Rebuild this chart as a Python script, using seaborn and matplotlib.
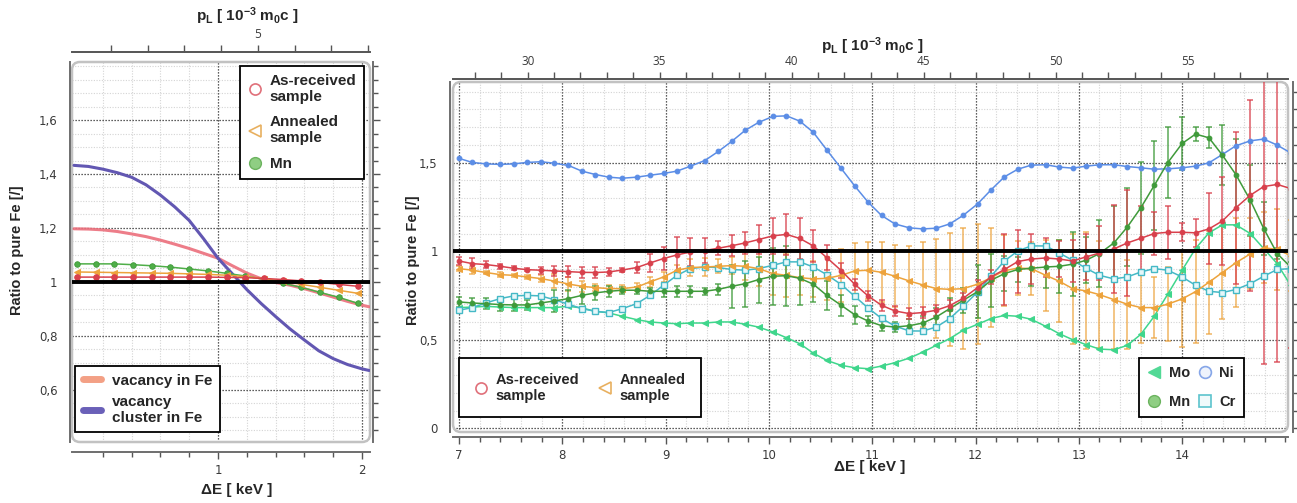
import matplotlib
matplotlib.use("Agg")
import matplotlib.pyplot as plt
import seaborn as sns
from matplotlib.ticker import FixedLocator, FuncFormatter
from matplotlib.lines import Line2D
from matplotlib.patches import FancyBboxPatch

# ---------------- data: left panel ----------------
e_left = [0.02, 0.15, 0.28, 0.41, 0.54, 0.67, 0.80, 0.93, 1.06, 1.19, 1.32, 1.45, 1.58, 1.71, 1.84, 1.97]
left_asrec = [1.018, 1.018, 1.018, 1.018, 1.018, 1.018, 1.018, 1.018, 1.017, 1.016, 1.013, 1.009, 1.004, 0.998, 0.991, 0.984]
left_anneal = [1.037, 1.036, 1.035, 1.034, 1.033, 1.032, 1.030, 1.028, 1.025, 1.020, 1.012, 1.003, 0.991, 0.980, 0.969, 0.958]
left_mn = [1.067, 1.067, 1.067, 1.064, 1.060, 1.055, 1.048, 1.041, 1.032, 1.022, 1.010, 0.995, 0.980, 0.961, 0.943, 0.921]

e_theory = [0.0, 0.1, 0.2, 0.3, 0.4, 0.5, 0.6, 0.7, 0.8, 0.9, 1.0, 1.1, 1.2, 1.3, 1.4, 1.5, 1.6, 1.7, 1.8, 1.9, 2.0, 2.05]
vac_fe = [1.197, 1.196, 1.193, 1.187, 1.178, 1.168, 1.155, 1.140, 1.124, 1.106, 1.088, 1.060, 1.033, 1.012, 0.998, 0.988,
          0.975, 0.960, 0.944, 0.928, 0.914, 0.908]
vac_cluster = [1.432, 1.428, 1.418, 1.405, 1.388, 1.360, 1.322, 1.278, 1.228, 1.160, 1.088, 1.030, 0.972, 0.920, 0.872,
               0.826, 0.785, 0.745, 0.716, 0.694, 0.678, 0.672]

# ---------------- data: right panel ----------------
e_right = [7.00, 7.13, 7.26, 7.40, 7.53, 7.66, 7.79, 7.92, 8.06, 8.19, 8.32, 8.45, 8.58, 8.72, 8.85, 8.98,
           9.11, 9.24, 9.38, 9.51, 9.64, 9.77, 9.90, 10.04, 10.17, 10.30, 10.43, 10.56, 10.70, 10.83, 10.96,
           11.09, 11.22, 11.36, 11.49, 11.62, 11.75, 11.88, 12.02, 12.15, 12.28, 12.41, 12.54, 12.68, 12.81,
           12.94, 13.07, 13.20, 13.34, 13.47, 13.60, 13.73, 13.86, 14.00, 14.13, 14.26, 14.39, 14.52, 14.66,
           14.79, 14.92, 15.05]

ni = [1.524, 1.501, 1.493, 1.490, 1.493, 1.501, 1.505, 1.497, 1.484, 1.452, 1.433, 1.418, 1.412, 1.418, 1.429, 1.439,
      1.452, 1.480, 1.512, 1.563, 1.620, 1.682, 1.727, 1.761, 1.764, 1.734, 1.671, 1.572, 1.467, 1.369, 1.277,
      1.202, 1.154, 1.132, 1.126, 1.130, 1.154, 1.202, 1.267, 1.346, 1.420, 1.463, 1.486, 1.488, 1.475, 1.469,
      1.480, 1.488, 1.488, 1.478, 1.471, 1.463, 1.465, 1.471, 1.480, 1.499, 1.546, 1.595, 1.623, 1.633, 1.599, 1.555]

asrec = [0.945, 0.930, 0.925, 0.915, 0.904, 0.896, 0.893, 0.889, 0.885, 0.881, 0.880, 0.883, 0.894, 0.908, 0.934, 0.959,
         0.979, 0.996, 1.004, 1.017, 1.031, 1.047, 1.066, 1.087, 1.095, 1.072, 1.030, 0.964, 0.891, 0.814, 0.748,
         0.695, 0.663, 0.648, 0.654, 0.667, 0.693, 0.734, 0.795, 0.855, 0.897, 0.942, 0.956, 0.962, 0.956, 0.945,
         0.968, 0.990, 1.013, 1.047, 1.073, 1.100, 1.107, 1.107, 1.104, 1.126, 1.171, 1.245, 1.316, 1.365, 1.377, 1.354]
asrec_err = [0.02, 0.03, 0.02, 0.015, 0.01, 0.01, 0.02, 0.03, 0.03, 0.03, 0.03, 0.02, 0.01, 0.03, 0.05, 0.065,
             0.1, 0.08, 0.07, 0.04, 0.06, 0.06, 0.08, 0.10, 0.115, 0.115, 0.09, 0.07, 0.04, 0.03, 0.03,
             0.03, 0.03, 0.03, 0.03, 0.03, 0.03, 0.03, 0.04, 0.04, 0.20, 0.18, 0.14, 0.11, 0.10, 0.12,
             0.13, 0.15, 0.25, 0.30, 0.18, 0.12, 0.15, 0.05, 0.08, 0.20, 0.25, 0.43, 0.54, 1.0, 1.0, 0.9]

anneal = [0.902, 0.893, 0.880, 0.868, 0.864, 0.855, 0.846, 0.832, 0.815, 0.802, 0.795, 0.789, 0.789, 0.798, 0.827, 0.855,
          0.893, 0.908, 0.911, 0.915, 0.919, 0.915, 0.902, 0.874, 0.864, 0.851, 0.844, 0.847, 0.864, 0.889, 0.893,
          0.881, 0.859, 0.832, 0.810, 0.789, 0.785, 0.789, 0.814, 0.851, 0.890, 0.905, 0.902, 0.864, 0.831, 0.789,
          0.776, 0.755, 0.727, 0.701, 0.682, 0.682, 0.701, 0.731, 0.772, 0.825, 0.880, 0.935, 0.985, 1.020, 1.010, 0.975]
anneal_err = [0.015, 0.02, 0.01, 0.015, 0.01, 0.01, 0.02, 0.04, 0.04, 0.03, 0.02, 0.02, 0.02, 0.02, 0.03, 0.03,
              0.03, 0.05, 0.05, 0.04, 0.05, 0.08, 0.10, 0.12, 0.12, 0.10, 0.10, 0.12, 0.15, 0.16, 0.16,
              0.17, 0.175, 0.20, 0.24, 0.28, 0.32, 0.34, 0.34, 0.28, 0.20, 0.15, 0.15, 0.20, 0.23, 0.31,
              0.33, 0.30, 0.28, 0.25, 0.20, 0.17, 0.21, 0.27, 0.29, 0.29, 0.26, 0.25, 0.20, 0.20, 0.23, 0.20]

mn = [0.714, 0.708, 0.704, 0.699, 0.697, 0.697, 0.708, 0.719, 0.733, 0.751, 0.765, 0.774, 0.780, 0.780, 0.774, 0.774,
      0.774, 0.774, 0.774, 0.785, 0.802, 0.817, 0.840, 0.859, 0.862, 0.847, 0.814, 0.751, 0.695, 0.642, 0.606,
      0.580, 0.572, 0.580, 0.595, 0.629, 0.676, 0.723, 0.772, 0.836, 0.874, 0.897, 0.904, 0.911, 0.915, 0.927,
      0.949, 0.987, 1.047, 1.137, 1.245, 1.371, 1.499, 1.608, 1.661, 1.640, 1.542, 1.433, 1.288, 1.128, 0.987, 0.911]
mn_err = [0.03, 0.03, 0.03, 0.035, 0.035, 0.03, 0.03, 0.06, 0.05, 0.05, 0.04, 0.03, 0.02, 0.02, 0.02, 0.03,
          0.03, 0.03, 0.02, 0.03, 0.12, 0.13, 0.13, 0.16, 0.17, 0.15, 0.10, 0.08, 0.06, 0.05, 0.03,
          0.03, 0.03, 0.04, 0.04, 0.05, 0.06, 0.07, 0.15, 0.15, 0.10, 0.07, 0.10, 0.12, 0.15, 0.18,
          0.13, 0.19, 0.21, 0.22, 0.26, 0.25, 0.20, 0.15, 0.04, 0.06, 0.17, 0.20, 0.20, 0.15, 0.03, 0.03]

cr = [0.667, 0.682, 0.708, 0.733, 0.748, 0.751, 0.748, 0.727, 0.701, 0.676, 0.661, 0.654, 0.676, 0.704, 0.751, 0.808,
      0.864, 0.902, 0.911, 0.908, 0.897, 0.893, 0.902, 0.921, 0.940, 0.940, 0.911, 0.868, 0.812, 0.746, 0.680,
      0.621, 0.578, 0.550, 0.550, 0.572, 0.620, 0.689, 0.770, 0.859, 0.945, 1.002, 1.030, 1.030, 0.990, 0.949,
      0.904, 0.864, 0.844, 0.855, 0.883, 0.902, 0.893, 0.855, 0.808, 0.774, 0.767, 0.784, 0.817, 0.859, 0.897, 0.902]

mo = [0.682, 0.685, 0.689, 0.685, 0.682, 0.682, 0.682, 0.682, 0.689, 0.680, 0.661, 0.652, 0.633, 0.614, 0.601, 0.595,
      0.591, 0.595, 0.595, 0.601, 0.601, 0.588, 0.572, 0.544, 0.512, 0.478, 0.425, 0.384, 0.356, 0.343, 0.337,
      0.352, 0.371, 0.397, 0.431, 0.469, 0.507, 0.554, 0.588, 0.620, 0.638, 0.633, 0.616, 0.576, 0.535, 0.501,
      0.473, 0.448, 0.444, 0.469, 0.531, 0.633, 0.757, 0.893, 1.015, 1.104, 1.149, 1.149, 1.100, 1.015, 0.930, 0.808]

# tick labels
left_yticks = [0.6, 0.8, 1.0, 1.2, 1.4, 1.6]
left_xticks = [1, 2]
left_pl_major = [5]
left_pl_minor = [1, 2, 3, 4, 6, 7, 8]
right_yticks = [0.0, 0.5, 1.0, 1.5]
right_xticks = [7, 8, 9, 10, 11, 12, 13, 14]
right_pl_major = [30, 35, 40, 45, 50, 55]
right_pl_minor = list(range(28, 59))

PL_PER_KEV = 2000.0 / 511.0   # p_L [1e-3 m0c] = 2*dE / (m0 c^2)

# ---------------- style ----------------
sns.set_style("white")
plt.rcParams['font.family'] = ['DejaVu Sans']
plt.rcParams['mathtext.fontset'] = 'custom'
plt.rcParams['mathtext.rm'] = 'Liberation Sans:bold'
plt.rcParams['mathtext.it'] = 'Liberation Sans:bold'
plt.rcParams['mathtext.bf'] = 'Liberation Sans:bold'

C_RED = '#d8404c'
C_ORANGE = '#eda33c'
C_MN = '#3f9a3a'
C_MN_FACE = '#4fae48'
C_NI = '#5b8de6'
C_CR = '#45b9c6'
C_MO = '#3fd68c'
C_VAC = '#ec6f7c'
C_CLU = '#6257b2'

W, H = 1297, 503
fig = plt.figure(figsize=(W / 100, H / 100), dpi=100)


def fpos(x0, y0, x1, y1):
    return [x0 / W, 1 - y1 / H, (x1 - x0) / W, (y1 - y0) / H]


axL = fig.add_axes(fpos(72, 62, 370, 442))
axR = fig.add_axes(fpos(453, 82, 1288, 432))


def comma(v, pos):
    s = f"{round(v, 3):g}"
    return s.replace('.', ',').replace('-', '\u2212')


TICKFONT = 'Open Sans'
LABFONT = dict(family='Liberation Sans', weight='bold', size=11)


def style_axes(ax, xlim, ylim, xmaj, xminor, ymaj, yminor, outs, pl_major, pl_minor, frame_px):
    ax.set_xlim(xlim)
    ax.set_ylim(ylim)
    ax.xaxis.set_major_locator(FixedLocator(xmaj))
    ax.xaxis.set_minor_locator(FixedLocator(xminor))
    ax.yaxis.set_major_locator(FixedLocator(ymaj))
    ax.yaxis.set_minor_locator(FixedLocator(yminor))
    ax.xaxis.set_major_formatter(FuncFormatter(comma))
    ax.yaxis.set_major_formatter(FuncFormatter(comma))
    ax.grid(which='minor', color='#d4d4d4', ls=(0, (1, 1.4)), lw=0.8)
    ax.grid(which='major', color='#2a2a2a', ls=(0, (1, 1.4)), lw=0.9)
    ax.set_axisbelow(True)
    ax.tick_params(which='both', direction='out', color='#555555', labelcolor='#3a3a3a',
                   labelsize=8.5, top=False, right=True, labelright=False, width=1.0)
    ax.tick_params(which='major', length=5, pad=4)
    ax.tick_params(which='minor', length=3.5)
    for lab in ax.get_xticklabels() + ax.get_yticklabels():
        lab.set_fontfamily(TICKFONT)
    for side in ['left', 'right', 'bottom']:
        ax.spines[side].set_position(('outward', outs[side]))
        ax.spines[side].set_color('#6e6e6e')
        ax.spines[side].set_linewidth(1.4)
    ax.spines['top'].set_visible(False)
    # rounded plot-area frame
    wpx, hpx = frame_px
    frame = FancyBboxPatch((0, 0), 1, 1, boxstyle=f"round,pad=0,rounding_size={8.0 / wpx}",
                           mutation_aspect=wpx / hpx, transform=ax.transAxes, fill=False,
                           ec='#c2c2c2', lw=1.8, clip_on=False, zorder=2.5)
    ax.add_patch(frame)
    # top axis in momentum units
    tw = ax.twiny()
    tw.set_xlim(xlim[0] * PL_PER_KEV, xlim[1] * PL_PER_KEV)
    tw.xaxis.set_major_locator(FixedLocator(pl_major))
    tw.xaxis.set_minor_locator(FixedLocator(pl_minor))
    for side in ['left', 'right', 'bottom']:
        tw.spines[side].set_visible(False)
    tw.spines['top'].set_position(('outward', outs['top']))
    tw.spines['top'].set_color('#555555')
    tw.spines['top'].set_linewidth(1.4)
    tw.tick_params(which='both', direction='out', color='#555555', labelcolor='#3a3a3a',
                   labelsize=8.5, width=1.0)
    tw.tick_params(which='major', length=5, pad=3)
    tw.tick_params(which='minor', length=5)
    for lab in tw.get_xticklabels():
        lab.set_fontfamily(TICKFONT)
    tw.grid(False)
    return tw


def frange(a, b, step):
    out = []
    v = a
    while v <= b + 1e-9:
        out.append(round(v, 3))
        v += step
    return out


# ---------------- left panel ----------------
twL = style_axes(axL, (-0.014, 2.056), (0.407, 1.815), left_xticks, frange(0.2, 2.0, 0.2),
                 left_yticks, frange(0.45, 1.8, 0.05),
                 dict(left=1.5, right=2.0, bottom=7.0, top=7.0), left_pl_major, left_pl_minor, (298, 380))

sns.lineplot(x=e_theory, y=vac_fe, ax=axL, color=C_VAC, lw=2.2, alpha=0.9, estimator=None, sort=False, zorder=3)
sns.lineplot(x=e_theory, y=vac_cluster, ax=axL, color=C_CLU, lw=2.2, estimator=None, sort=False, zorder=3)
sns.lineplot(x=e_left, y=left_mn, ax=axL, color=C_MN_FACE, lw=1.1, marker='o', markersize=4,
             markeredgecolor=C_MN, markeredgewidth=0.6, estimator=None, sort=False, zorder=3.2)
sns.lineplot(x=e_left, y=left_anneal, ax=axL, color=C_ORANGE, lw=1.1, marker='<', markersize=4.5,
             markeredgecolor=C_ORANGE, estimator=None, sort=False, zorder=3.2)
sns.lineplot(x=e_left, y=left_asrec, ax=axL, color=C_RED, lw=1.1, marker='o', markersize=4,
             markeredgecolor=C_RED, estimator=None, sort=False, zorder=3.2)
axL.axhline(1.0, color='black', lw=2.8, zorder=4)

LEGPROP_L = dict(family='Liberation Sans', weight='bold', size=11)
LEGPROP_R = dict(family='Liberation Sans', weight='bold', size=10.5)
hL1 = [Line2D([], [], ls='none', marker='o', ms=8, mfc='none', mec='#e0707a', mew=1.2),
       Line2D([], [], ls='none', marker='<', ms=8, mfc='none', mec='#e8b060', mew=1.2),
       Line2D([], [], ls='none', marker='o', ms=8.5, mfc='#8fce83', mec='#6bb35e', mew=1.0)]
legL1 = axL.legend(hL1, ['As-received\nsample', 'Annealed\nsample', 'Mn'], prop=LEGPROP_L,
                   loc='upper left', bbox_to_anchor=(240 / W, 1 - 66 / H), bbox_transform=fig.transFigure,
                   frameon=True, fancybox=False, edgecolor='black', framealpha=1, borderaxespad=0,
                   handlelength=1.0, handletextpad=0.45, labelspacing=0.75, borderpad=0.5)
legL1.get_frame().set_linewidth(1.3)
axL.add_artist(legL1)
hL2 = [Line2D([], [], color='#f3a085', lw=5), Line2D([], [], color='#6a60b8', lw=5)]
legL2 = axL.legend(hL2, ['vacancy in Fe', 'vacancy\ncluster in Fe'], prop=LEGPROP_L,
                   loc='upper left', bbox_to_anchor=(75 / W, 1 - 366 / H), bbox_transform=fig.transFigure,
                   frameon=True, fancybox=False, edgecolor='black', framealpha=1, borderaxespad=0,
                   handlelength=1.2, handletextpad=0.7, labelspacing=0.45, borderpad=0.5)
legL2.get_frame().set_linewidth(1.3)

# ---------------- right panel ----------------
twR = style_axes(axR, (6.942, 15.025), (-0.02, 1.955), right_xticks, frange(7.2, 15.0, 0.2),
                 right_yticks, frange(0.1, 1.9, 0.1),
                 dict(left=2.0, right=3.5, bottom=3.5, top=2.0), right_pl_major, right_pl_minor, (835, 350))

ERR = dict(fmt='none', elinewidth=1.1, capsize=2.3, capthick=1.1, zorder=3)
axR.errorbar(e_right, anneal, yerr=anneal_err, ecolor=C_ORANGE, alpha=0.8, **ERR)
axR.errorbar(e_right, mn, yerr=mn_err, ecolor=C_MN, alpha=0.85, **ERR)
axR.errorbar(e_right, asrec, yerr=asrec_err, ecolor=C_RED, alpha=0.85, **ERR)

LK = dict(estimator=None, sort=False, lw=1.1)
sns.lineplot(x=e_right, y=ni, ax=axR, color=C_NI, marker='o', markersize=3.4, markeredgecolor=C_NI, zorder=3.3, **LK)
sns.lineplot(x=e_right, y=mo, ax=axR, color=C_MO, marker='<', markersize=4, markeredgecolor=C_MO, zorder=3.3, **LK)
sns.lineplot(x=e_right, y=cr, ax=axR, color=C_CR, marker='s', markersize=4.2, markerfacecolor='#e6f7f9',
             markeredgecolor=C_CR, markeredgewidth=1.0, zorder=3.4, **LK)
sns.lineplot(x=e_right, y=anneal, ax=axR, color=C_ORANGE, marker='<', markersize=4, markeredgecolor=C_ORANGE,
             zorder=3.5, **LK)
sns.lineplot(x=e_right, y=mn, ax=axR, color=C_MN, marker='o', markersize=3.4, markeredgecolor=C_MN, zorder=3.6, **LK)
sns.lineplot(x=e_right, y=asrec, ax=axR, color=C_RED, marker='o', markersize=3.4, markeredgecolor=C_RED,
             zorder=3.7, **LK)
axR.axhline(1.0, color='black', lw=2.8, zorder=4)

hR1 = [Line2D([], [], ls='none', marker='o', ms=8, mfc='none', mec='#e0707a', mew=1.2),
       Line2D([], [], ls='none', marker='<', ms=8, mfc='none', mec='#e8b060', mew=1.2)]
legR1 = axR.legend(hR1, ['As-received\nsample', 'Annealed\nsample'], prop=LEGPROP_R, ncol=2,
                   loc='upper left', bbox_to_anchor=(459 / W, 1 - 358 / H), bbox_transform=fig.transFigure,
                   frameon=True, fancybox=False, edgecolor='black', framealpha=1, borderaxespad=0,
                   handlelength=1.0, handletextpad=0.5, columnspacing=1.3, borderpad=1.0)
legR1.get_frame().set_linewidth(1.3)
axR.add_artist(legR1)
hR2 = [Line2D([], [], ls='none', marker='<', ms=8.5, mfc='#52d996', mec='#52d996'),
       Line2D([], [], ls='none', marker='o', ms=8.5, mfc='#8fce83', mec='#6bb35e', mew=1.0),
       Line2D([], [], ls='none', marker='o', ms=8.5, mfc='#eef3fc', mec='#86a6e8', mew=1.2),
       Line2D([], [], ls='none', marker='s', ms=8, mfc='#f0fafb', mec='#5cc3cd', mew=1.2)]
legR2 = axR.legend(hR2, ['Mo', 'Mn', 'Ni', 'Cr'], prop=LEGPROP_R, ncol=2,
                   loc='upper left', bbox_to_anchor=(1139 / W, 1 - 358 / H), bbox_transform=fig.transFigure,
                   frameon=True, fancybox=False, edgecolor='black', framealpha=1, borderaxespad=0,
                   handlelength=1.0, handletextpad=0.5, columnspacing=0.5, labelspacing=1.0, borderpad=0.55)
legR2.get_frame().set_linewidth(1.3)

# ---------------- axis titles ----------------
PL_TEXT = r"p$_\mathregular{L}$ [ 10$^{\mathregular{-3}}$ m$_\mathregular{0}$c ]"
fig.text(247 / W, 1 - 16 / H, PL_TEXT, ha='center', va='center', **LABFONT)
fig.text(872 / W, 1 - 46 / H, PL_TEXT, ha='center', va='center', **LABFONT)
fig.text(237 / W, 1 - 490 / H, "\u0394E [ keV ]", ha='center', va='center', **LABFONT)
fig.text(870 / W, 1 - 467 / H, "\u0394E [ keV ]", ha='center', va='center', **LABFONT)
fig.text(17 / W, 1 - 250 / H, "Ratio to pure Fe [/]", ha='center', va='center', rotation=90,
         family='Liberation Sans', weight='bold', size=10.5)
fig.text(413 / W, 1 - 260 / H, "Ratio to pure Fe [/]", ha='center', va='center', rotation=90,
         family='Liberation Sans', weight='bold', size=10.5)

fig.savefig("out.png", dpi=100)
